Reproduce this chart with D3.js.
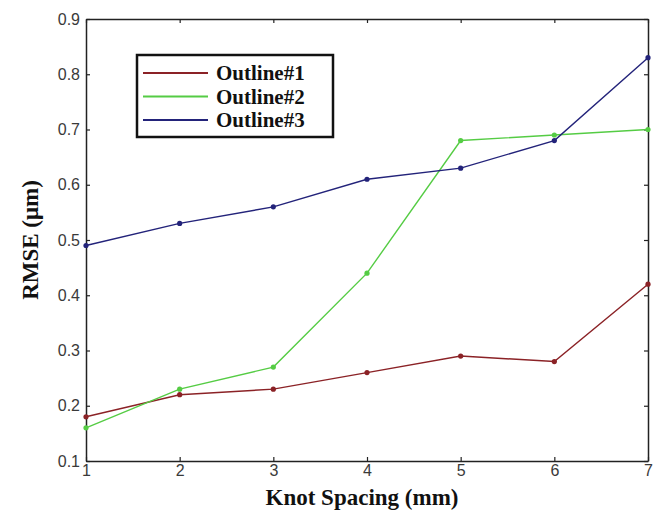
<!DOCTYPE html>
<html>
<head>
<meta charset="utf-8">
<script src="https://cdn.jsdelivr.net/npm/d3@7"></script>
<style>
  body { margin: 0; background: #fff; }
</style>
</head>
<body>
<div id="chart"></div>
<script>
// knot spacing (mm)
const spacing = [1, 2, 3, 4, 5, 6, 7]
const seriesNames = ['Outline#1', 'Outline#2', 'Outline#3']
const outline1 = [0.18, 0.22, 0.23, 0.26, 0.29, 0.28, 0.42]
const outline2 = [0.16, 0.23, 0.27, 0.44, 0.68, 0.69, 0.70]
const outline3 = [0.49, 0.53, 0.56, 0.61, 0.63, 0.68, 0.83]
const yTicks = [0.1, 0.2, 0.3, 0.4, 0.5, 0.6, 0.7, 0.8, 0.9]

const colors = ['#8b2226', '#55cc44', '#23237a']

const w = 660
const h = 511
const margin = { top: 19, right: 12, bottom: 50, left: 86 }

const svg = d3.select('#chart')
  .append('svg')
  .attr('width', w)
  .attr('height', h)

const x = d3.scaleLinear().domain([1, 7]).range([margin.left, w - margin.right])
const y = d3.scaleLinear().domain([0.1, 0.9]).range([h - margin.bottom, margin.top])

// axes, ticks pointing inward like matlab
const xAxis = svg.append('g')
  .attr('transform', `translate(0,${h - margin.bottom})`)
  .call(d3.axisBottom(x).tickValues(spacing).tickFormat(d3.format('d')).tickSizeInner(-4).tickSizeOuter(0).tickPadding(4))
const yAxis = svg.append('g')
  .attr('transform', `translate(${margin.left},0)`)
  .call(d3.axisLeft(y).tickValues(yTicks).tickFormat(d3.format('.1f')).tickSizeInner(-4).tickSizeOuter(0).tickPadding(6))
svg.append('g')
  .attr('transform', `translate(0,${margin.top})`)
  .call(d3.axisTop(x).tickValues(spacing).tickFormat('').tickSizeInner(-4).tickSizeOuter(0))
svg.append('g')
  .attr('transform', `translate(${w - margin.right},0)`)
  .call(d3.axisRight(y).tickValues(yTicks).tickFormat('').tickSizeInner(-4).tickSizeOuter(0))

xAxis.attr('font-size', 16).attr('font-family', '"Liberation Sans", Arial, sans-serif')
yAxis.attr('font-size', 16).attr('font-family', '"Liberation Sans", Arial, sans-serif')
svg.selectAll('.tick text').attr('fill', '#3a3a3a')
svg.selectAll('.domain').attr('stroke', '#222').attr('stroke-width', 1.5)
svg.selectAll('.tick line').attr('stroke', '#222').attr('stroke-width', 1.2)

const line = d3.line()
  .x((d, i) => x(spacing[i]))
  .y(d => y(d))

const allSeries = [outline1, outline2, outline3]
allSeries.forEach((vals, k) => {
  svg.append('path')
    .datum(vals)
    .attr('fill', 'none')
    .attr('stroke', colors[k])
    .attr('stroke-width', 1.4)
    .attr('d', line)
  svg.append('g')
    .selectAll('circle')
    .data(vals)
    .enter()
    .append('circle')
    .attr('cx', (d, i) => x(spacing[i]))
    .attr('cy', d => y(d))
    .attr('r', 2.6)
    .attr('fill', colors[k])
})

// legend
const legend = svg.append('g').attr('transform', 'translate(137,55)')
legend.append('rect')
  .attr('width', 196)
  .attr('height', 82)
  .attr('fill', '#fff')
  .attr('stroke', '#111')
  .attr('stroke-width', 2.5)
seriesNames.forEach((name, k) => {
  const ly = 18 + k * 23.5
  legend.append('line')
    .attr('x1', 6).attr('x2', 71)
    .attr('y1', ly).attr('y2', ly)
    .attr('stroke', colors[k])
    .attr('stroke-width', 2.2)
  legend.append('text')
    .attr('x', 79)
    .attr('y', ly + 7)
    .attr('font-family', '"Liberation Serif", serif')
    .attr('font-weight', 'bold')
    .attr('font-size', 21)
    .attr('fill', '#111')
    .text(name)
})

// axis titles
svg.append('text')
  .attr('x', 362)
  .attr('y', 505)
  .attr('text-anchor', 'middle')
  .attr('font-family', '"Liberation Serif", serif')
  .attr('font-weight', 'bold')
  .attr('font-size', 23)
  .attr('fill', '#111')
  .text('Knot Spacing (mm)')

svg.append('text')
  .attr('transform', 'translate(38,240) rotate(-90)')
  .attr('text-anchor', 'middle')
  .attr('font-family', '"Liberation Serif", serif')
  .attr('font-weight', 'bold')
  .attr('font-size', 23)
  .attr('fill', '#111')
  .text('RMSE (μm)')
</script>
</body>
</html>
